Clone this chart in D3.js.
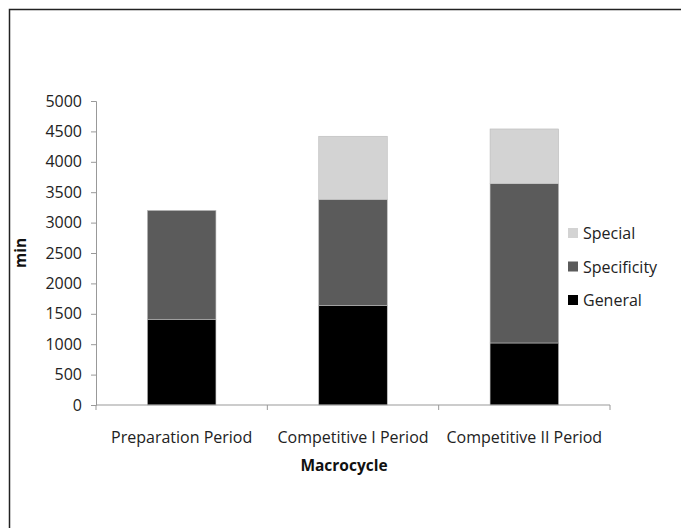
<!DOCTYPE html>
<html>
<head>
<meta charset="utf-8">
<script src="https://cdn.jsdelivr.net/npm/d3@7"></script>
<style>
  body { margin: 0; background: #fff; }
  text { font-family: "Open Sans", "Liberation Sans", sans-serif; }
</style>
</head>
<body>
<div id="chart"></div>
<script>
// data (minutes)
var periods = ["Preparation Period", "Competitive I Period", "Competitive II Period"];
var general = [1410, 1640, 1020];
var specificity = [1790, 1740, 2620];
var special = [0, 1040, 900];
var seriesNames = ["General", "Specificity", "Special"];
var yTicks = [0, 500, 1000, 1500, 2000, 2500, 3000, 3500, 4000, 4500, 5000];

var colors = {"General": "#000000", "Specificity": "#5b5b5b", "Special": "#d3d3d3"};

var W = 681, H = 528;
var svg = d3.select("#chart").append("svg").attr("width", W).attr("height", H);

// outer frame
svg.append("rect")
  .attr("x", 9.5).attr("y", 9.5)
  .attr("width", W + 10).attr("height", H + 10)
  .attr("fill", "none").attr("stroke", "#222").attr("stroke-width", 1.5);

var pLeft = 96, pRight = 610, pTop = 101, pBottom = 405;

var x = d3.scaleBand().domain(periods).range([pLeft, pRight]).paddingInner(0.6).paddingOuter(0.3);
var xTick = d3.scaleBand().domain(periods).range([pLeft, pRight]);
var y = d3.scaleLinear().domain([0, 5000]).range([pBottom, pTop]);

var rows = periods.map(function(p, i) {
  return {period: p, General: general[i], Specificity: specificity[i], Special: special[i]};
});
var stacked = d3.stack().keys(seriesNames)(rows);

// bars
svg.selectAll(".layer")
  .data(stacked)
  .enter().append("g")
  .attr("fill", function(d) { return colors[d.key]; })
  .selectAll("rect")
  .data(function(d) { return d; })
  .enter().append("rect")
  .attr("x", function(d) { return x(d.data.period); })
  .attr("y", function(d) { return y(d[1]); })
  .attr("width", x.bandwidth())
  .attr("height", function(d) { return y(d[0]) - y(d[1]); })
  .attr("stroke", function(d) { return d[1] > d[0] ? "#bbb" : "none"; })
  .attr("stroke-width", 0.6);

// y axis
var yAxis = svg.append("g")
  .attr("transform", "translate(" + pLeft + ",0)")
  .call(d3.axisLeft(y).tickValues(yTicks).tickFormat(d3.format("d")).tickSize(5).tickPadding(9));
yAxis.select(".domain").attr("stroke", "#999");
yAxis.selectAll(".tick line").attr("stroke", "#999");
yAxis.selectAll(".tick text").attr("font-size", "16px").attr("fill", "#222")
  .style("font-family", "'Open Sans', sans-serif");

// x axis: ticks between categories
var xg = svg.append("g").attr("transform", "translate(0," + pBottom + ")");
xg.append("line").attr("x1", pLeft).attr("x2", pRight).attr("y1", 0).attr("y2", 0).attr("stroke", "#999");
var bounds = periods.map(function(p) { return xTick(p); }).concat([pRight]);
xg.selectAll(".xt").data(bounds).enter().append("line")
  .attr("x1", function(d) { return d; }).attr("x2", function(d) { return d; })
  .attr("y1", 0).attr("y2", 5).attr("stroke", "#999");
xg.selectAll(".xl").data(periods).enter().append("text")
  .attr("x", function(d) { return xTick(d) + xTick.bandwidth() / 2; })
  .attr("y", 38)
  .attr("text-anchor", "middle")
  .attr("font-size", "16px").attr("fill", "#222")
  .text(function(d) { return d; });

// axis titles
svg.append("text")
  .attr("x", 344).attr("y", 471)
  .attr("text-anchor", "middle")
  .attr("font-size", "15.5px").attr("font-weight", "bold").attr("fill", "#111")
  .text("Macrocycle");
svg.append("text")
  .attr("transform", "translate(26,253) rotate(-90)")
  .attr("text-anchor", "middle")
  .attr("font-size", "15.5px").attr("font-weight", "bold").attr("fill", "#111")
  .text("min");

// legend
var legendNames = ["Special", "Specificity", "General"];
var ly = d3.scalePoint().domain(legendNames).range([233, 300]);
var lg = svg.selectAll(".leg").data(legendNames).enter().append("g")
  .attr("transform", function(d) { return "translate(568," + ly(d) + ")"; });
lg.append("rect").attr("x", 0).attr("y", -5).attr("width", 10).attr("height", 10)
  .attr("fill", function(d) { return colors[d]; });
lg.append("text").attr("x", 15).attr("y", 6)
  .attr("font-size", "16px").attr("fill", "#222")
  .text(function(d) { return d; });
</script>
</body>
</html>
